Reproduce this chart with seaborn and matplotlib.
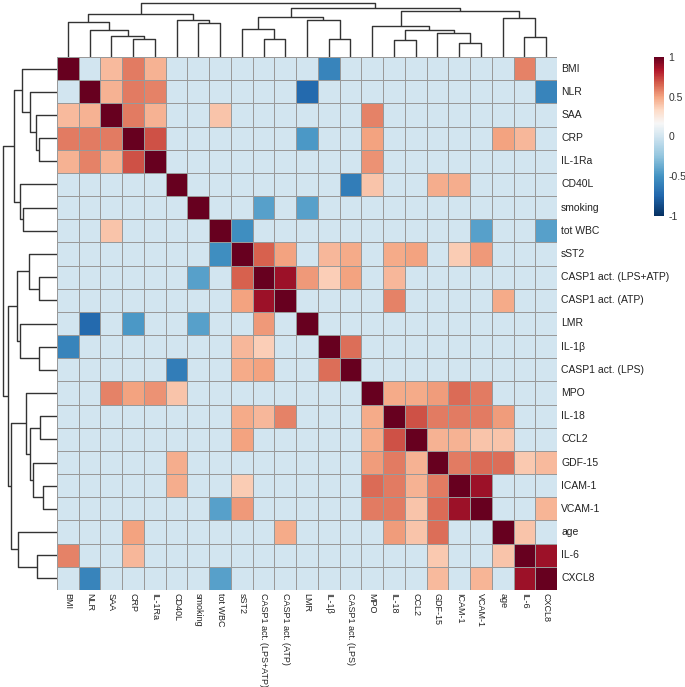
import numpy as np
import pandas as pd
import matplotlib
matplotlib.use('Agg')
import matplotlib.pyplot as plt
import seaborn as sns
from matplotlib.colors import LinearSegmentedColormap

# variables, in the order they appear on both axes
variables = ['BMI', 'NLR', 'SAA', 'CRP', 'IL-1Ra', 'CD40L', 'smoking', 'tot WBC',
             'sST2', 'CASP1 act. (LPS+ATP)', 'CASP1 act. (ATP)', 'LMR', 'IL-1\u03b2',
             'CASP1 act. (LPS)', 'MPO', 'IL-18', 'CCL2', 'GDF-15', 'ICAM-1', 'VCAM-1',
             'age', 'IL-6', 'CXCL8']

# significant correlations (everything else is shown as 0)
corr_a = ['BMI', 'BMI', 'BMI', 'BMI', 'BMI', 'NLR', 'NLR', 'NLR', 'NLR', 'NLR',
          'SAA', 'SAA', 'SAA', 'SAA', 'CRP', 'CRP', 'CRP', 'CRP', 'CRP', 'IL-1Ra',
          'CD40L', 'CD40L', 'CD40L', 'CD40L', 'smoking', 'smoking',
          'tot WBC', 'tot WBC', 'tot WBC',
          'sST2', 'sST2', 'sST2', 'sST2', 'sST2', 'sST2', 'sST2', 'sST2',
          'CASP1 act. (LPS+ATP)', 'CASP1 act. (LPS+ATP)', 'CASP1 act. (LPS+ATP)',
          'CASP1 act. (LPS+ATP)', 'CASP1 act. (LPS+ATP)',
          'CASP1 act. (ATP)', 'CASP1 act. (ATP)', 'IL-1\u03b2',
          'MPO', 'MPO', 'MPO', 'MPO', 'MPO',
          'IL-18', 'IL-18', 'IL-18', 'IL-18', 'IL-18',
          'CCL2', 'CCL2', 'CCL2', 'CCL2',
          'GDF-15', 'GDF-15', 'GDF-15', 'GDF-15', 'GDF-15',
          'ICAM-1', 'VCAM-1', 'age', 'IL-6']
corr_b = ['SAA', 'CRP', 'IL-1Ra', 'IL-1\u03b2', 'IL-6', 'SAA', 'CRP', 'IL-1Ra', 'LMR', 'CXCL8',
          'CRP', 'IL-1Ra', 'tot WBC', 'MPO', 'IL-1Ra', 'LMR', 'MPO', 'age', 'IL-6', 'MPO',
          'CASP1 act. (LPS)', 'MPO', 'GDF-15', 'ICAM-1', 'CASP1 act. (LPS+ATP)', 'LMR',
          'sST2', 'VCAM-1', 'CXCL8',
          'CASP1 act. (LPS+ATP)', 'CASP1 act. (ATP)', 'IL-1\u03b2', 'CASP1 act. (LPS)',
          'IL-18', 'CCL2', 'ICAM-1', 'VCAM-1',
          'CASP1 act. (ATP)', 'LMR', 'IL-1\u03b2', 'CASP1 act. (LPS)', 'IL-18',
          'IL-18', 'age', 'CASP1 act. (LPS)',
          'IL-18', 'CCL2', 'GDF-15', 'ICAM-1', 'VCAM-1',
          'CCL2', 'GDF-15', 'ICAM-1', 'VCAM-1', 'age',
          'GDF-15', 'ICAM-1', 'VCAM-1', 'age',
          'ICAM-1', 'VCAM-1', 'age', 'IL-6', 'CXCL8',
          'VCAM-1', 'CXCL8', 'IL-6', 'CXCL8']
corr_r = [0.43, 0.60, 0.46, -0.58, 0.58, 0.46, 0.60, 0.58, -0.72, -0.58,
          0.60, 0.46, 0.40, 0.58, 0.70, -0.47, 0.50, 0.50, 0.44, 0.54,
          -0.62, 0.40, 0.47, 0.47, -0.43, -0.43,
          -0.53, -0.43, -0.43,
          0.66, 0.50, 0.44, 0.48, 0.48, 0.50, 0.38, 0.53,
          0.88, 0.53, 0.37, 0.50, 0.44,
          0.58, 0.48, 0.63,
          0.48, 0.48, 0.52, 0.64, 0.60,
          0.70, 0.60, 0.60, 0.60, 0.52,
          0.46, 0.46, 0.40, 0.40,
          0.60, 0.64, 0.63, 0.39, 0.43,
          0.88, 0.45, 0.40, 0.88]

# hierarchical clustering tree (leaf = position in `variables`)
merge_left = [18, 15, 3, 9, 12, 21, 2, 17, 24, 1, 8, 14, 6, 0, 5, 11, 20, 33, 36, 34, 40, 41]
merge_right = [19, 16, 4, 10, 13, 22, 25, 23, 30, 29, 26, 31, 7, 32, 35, 27, 28, 38, 37, 39, 42, 43]
merge_height = [42, 53, 55, 57, 57, 63, 66, 73, 82, 83, 87, 97, 105, 108, 113, 114, 119,
                124, 132, 141, 150, 166]

# build the correlation matrix
df = pd.DataFrame(np.eye(len(variables)), index=variables, columns=variables)
for a, b, r in zip(corr_a, corr_b, corr_r):
    df.loc[a, b] = r
    df.loc[b, a] = r

# linkage matrix in scipy format
n = len(variables)
sizes = [1] * n
Z = []
for l, r, h in zip(merge_left, merge_right, merge_height):
    sizes.append(sizes[l] + sizes[r])
    Z.append([l, r, h / 100.0, sizes[-1]])
Z = np.array(Z, dtype=float)

# RdBu palette, with 0 sitting on the light blue step
cmap = LinearSegmentedColormap.from_list('rdbu_shift', [
    (0.000, '#053061'), (0.125, '#2166ac'), (0.250, '#4393c3'), (0.375, '#92c5de'),
    (0.500, '#d1e5f0'), (0.583, '#f7f7f7'), (0.667, '#fddbc7'), (0.750, '#f4a582'),
    (0.833, '#d6604d'), (0.917, '#b2182b'), (1.000, '#67001f')])

sns.set_style('white')
plt.rcParams['font.family'] = ['Liberation Sans', 'DejaVu Sans']

W, H = 685, 687
g = sns.clustermap(df, row_linkage=Z, col_linkage=Z, cmap=cmap, vmin=-1, vmax=1,
                   figsize=(W / 100, H / 100), linewidths=0.7, linecolor='#999999',
                   xticklabels=True, yticklabels=True,
                   tree_kws={'linewidths': 1.0, 'colors': '#333333'})

g.ax_heatmap.set_position([57 / W, (H - 590) / H, 500 / W, 533 / H])
g.ax_row_dendrogram.set_position([0.5 / W, (H - 590) / H, 56.5 / W, 533 / H])
g.ax_col_dendrogram.set_position([57 / W, (H - 57) / H, 500 / W, 56.5 / H])
g.ax_cbar.set_position([654 / W, (H - 216) / H, 10 / W, 159 / H])

ax = g.ax_heatmap
ax.set_xlabel('')
ax.set_ylabel('')
ax.tick_params(axis='both', length=0, labelcolor='#222222', pad=3)
ax.tick_params(axis='y', labelsize=7.5)
ax.tick_params(axis='x', labelsize=6.5, pad=2.5)
plt.setp(ax.get_xticklabels(), rotation=270, ha='center', va='top')
plt.setp(ax.get_yticklabels(), rotation=0, ha='left', va='center')

cax = g.ax_cbar
cax.set_yticks([-1, -0.5, 0, 0.5, 1])
cax.set_yticklabels(['-1', '-0.5', '0', '0.5', '1'])
cax.tick_params(length=0, labelsize=7.5, labelcolor='#333333', pad=3)
for s in cax.spines.values():
    s.set_visible(False)

plt.savefig('out.png', dpi=100)
plt.close()
